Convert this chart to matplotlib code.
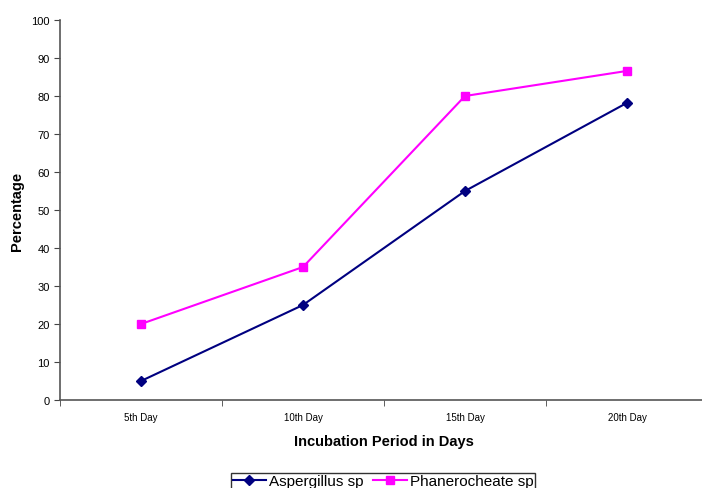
import numpy as np
import matplotlib.pyplot as plt

plt.rcParams['font.family'] = ['Liberation Sans', 'DejaVu Sans']

# Chart data
days = ['5th Day', '10th Day', '15th Day', '20th Day']
aspergillus = [5, 25, 55, 78.2]
phanerocheate = [20, 35, 80, 86.6]

fig = plt.figure(figsize=(7.02, 4.89), dpi=100)
ax = fig.add_axes([60 / 702, 1 - 401 / 489, 648 / 702, 380 / 489])

x = np.arange(len(days))
ax.plot(x, aspergillus, color='#000080', marker='D', markersize=5,
        linewidth=1.5, label='Aspergillus sp')
ax.plot(x, phanerocheate, color='#ff00ff', marker='s', markersize=6,
        linewidth=1.5, label='Phanerocheate sp')

ax.set_xlim(-0.5, len(days) - 0.5)
ax.set_ylim(0, 100)
ax.set_yticks(range(0, 101, 10))
ax.set_xticks(x)
ax.set_xticklabels(days, fontsize=7)
ax.set_xticks(np.arange(-0.5, len(days), 1), minor=True)
ax.tick_params(axis='x', which='major', length=0, pad=9)
ax.tick_params(axis='x', which='minor', length=4, color='#444444')
ax.tick_params(axis='y', labelsize=8, length=4, color='#444444')

for side in ['top', 'right']:
    ax.spines[side].set_visible(False)
for side in ['left', 'bottom']:
    ax.spines[side].set_color('#555555')
    ax.spines[side].set_linewidth(1.2)

ax.set_xlabel('Incubation Period in Days', fontsize=10.5, fontweight='bold', labelpad=8)
ax.set_ylabel('Percentage', fontsize=10.5, fontweight='bold')
ax.yaxis.set_label_coords(-36 / 648, 0.5)

leg = fig.legend(loc='upper center', bbox_to_anchor=(383 / 702, 1 - 466 / 489),
                 ncol=2, fontsize=11, frameon=True, fancybox=False,
                 handlelength=2.2, handletextpad=0.2, columnspacing=0.6,
                 borderpad=0.1)
leg.get_frame().set_edgecolor('black')
leg.get_frame().set_linewidth(1.0)

fig.savefig('out.png', dpi=100)
plt.close()
